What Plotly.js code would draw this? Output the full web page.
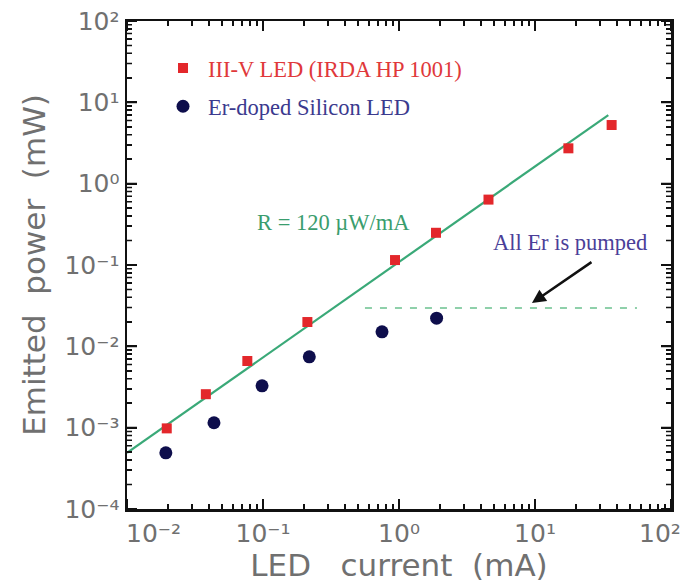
<!DOCTYPE html>
<html>
<head>
<meta charset="utf-8">
<script src="https://cdn.plot.ly/plotly-3.0.1.min.js"></script>
<style>html,body{margin:0;padding:0;background:#fff;}#chart{width:686px;height:588px;}</style>
</head>
<body>
<div id="chart"></div>
<script>
// ---- data ----
const seriesNames = ["III-V LED (IRDA HP 1001)", "Er-doped Silicon LED"];
const redX = [0.0196, 0.038, 0.0767, 0.212, 0.935, 1.87, 4.55, 17.6, 36.6];
const redY = [0.00098, 0.00258, 0.0066, 0.0199, 0.115, 0.249, 0.637, 2.72, 5.26];
const blueX = [0.0193, 0.0436, 0.0984, 0.219, 0.75, 1.89];
const blueY = [0.00049, 0.00115, 0.00327, 0.00743, 0.0151, 0.0222];
const fitX = [0.01, 34.6];
const fitY = [0.00049, 6.98];
const satX = [0.562, 56.2];
const satY = [0.0295, 0.0295];
const arrowTip = [9.5, 0.034];
const fitLabel = "R = 120 \u00b5W/mA";
const satLabel = "All Er is pumped";
const xTickVals = [0.01, 0.1, 1, 10, 100];
const xTickText = [" ", "10\u207b\u00b9", "10\u2070", "10\u00b9", " "];
const xEdgeText = ["10\u207b\u00b2", "10\u00b2"];
const yTickVals = [0.0001, 0.001, 0.01, 0.1, 1, 10, 100];
const yTickText = ["10\u207b\u2074", "10\u207b\u00b3", "10\u207b\u00b2", "10\u207b\u00b9", "10\u2070", "10\u00b9", "10\u00b2"];
const xTitle = "LED\u00a0\u00a0\u00a0current\u00a0\u00a0(mA)";
const yTitle = "Emitted\u00a0\u00a0power\u00a0\u00a0(mW)";
const xRange = [-2, 2];
const yRange = [-4, 2];

// minor tick positions (2..9 within each decade)
function minorTicks(lo, hi) {
  const out = [];
  for (let e = lo; e < hi; e++) for (let m = 2; m <= 9; m++) out.push(m * Math.pow(10, e));
  return out;
}

const serif = "Liberation Serif, Times New Roman, serif";
const sans = "DejaVu Sans, sans-serif";
const gray = "#707070";
const W = 686, H = 588, M = {l: 127, r: 15, t: 21, b: 79};
const plotW = W - M.l - M.r, plotH = H - M.t - M.b;

const traces = [
  {x: fitX, y: fitY, mode: "lines", line: {color: "#3aa978", width: 2.2}, showlegend: false, hoverinfo: "skip"},
  {x: satX, y: satY, mode: "lines", line: {color: "#8fd0aa", width: 2, dash: "7px,8px"}, showlegend: false, hoverinfo: "skip"},
  {x: redX, y: redY, mode: "markers", name: '<span style="color:#e0383a">' + seriesNames[0] + '</span>',
   legendgroup: "a", marker: {symbol: "square", size: 10, color: "#e3272b"}},
  {x: blueX, y: blueY, mode: "markers", name: '<span style="color:#3b3a8e">' + seriesNames[1] + '</span>',
   legendgroup: "b", marker: {symbol: "circle", size: 13, color: "#0e0e4c"}}
];

function axis(range, vals, text, title, standoff) {
  return {
    type: "log", range: range, showgrid: false, zeroline: false,
    showline: true, linecolor: "#111", linewidth: 2.5, mirror: "allticks",
    ticks: "inside", ticklen: 10, tickwidth: 2, tickcolor: "#111",
    tickmode: "array", tickvals: vals, ticktext: text,
    minor: {ticks: "inside", ticklen: 5, tickwidth: 1.5, tickcolor: "#111", tickmode: "array",
            tickvals: minorTicks(range[0], range[1]), showgrid: false},
    tickfont: {family: sans, size: 25, color: gray},
    automargin: false,
    title: {text: title, font: {family: sans, size: 31, color: gray}, standoff: standoff}
  };
}

// tick marks on all four frame sides, placed from the same tick values on the log scale
function frac(v, range) { return (Math.log10(v) - range[0]) / (range[1] - range[0]); }
function xTickPath(vals, lenPx) {
  const len = lenPx / plotH;
  return vals.map(function (v) { const p = frac(v, xRange); return "M" + p + ",0L" + p + "," + len + "M" + p + ",1L" + p + "," + (1 - len); }).join("");
}
function yTickPath(vals, lenPx) {
  const len = lenPx / plotW;
  return vals.map(function (v) { const p = frac(v, yRange); return "M0," + p + "L" + len + "," + p + "M1," + p + "L" + (1 - len) + "," + p; }).join("");
}
const tickShapes = [
  {path: xTickPath(xTickVals, 10), w: 2},
  {path: xTickPath(minorTicks(xRange[0], xRange[1]), 5), w: 1.5},
  {path: yTickPath(yTickVals, 10), w: 2},
  {path: yTickPath(minorTicks(yRange[0], yRange[1]), 5), w: 1.5}
].map(function (s) { return {type: "path", xref: "paper", yref: "paper", path: s.path, line: {color: "#111", width: s.w}, layer: "above"}; });

const layout = {
  width: W, height: H,
  margin: M,
  showlegend: true,
  legend: {x: 0.057, y: 0.947, xanchor: "left", yanchor: "top", bgcolor: "rgba(0,0,0,0)",
           font: {family: serif, size: 22.5}, tracegroupgap: 6, itemwidth: 40},
  xaxis: axis(xRange, xTickVals, xTickText, xTitle, 6),
  yaxis: axis(yRange, yTickVals, yTickText, yTitle, 10),
  shapes: tickShapes,
  annotations: [
    {xref: "paper", yref: "paper", x: 0.3805, y: 0.588, xanchor: "center", yanchor: "middle", text: fitLabel, showarrow: false,
     font: {family: serif, size: 22.5, color: "#3a9d6e"}},
    {xref: "paper", yref: "paper", x: 0.814, y: 0.547, xanchor: "center", yanchor: "middle", text: satLabel, showarrow: false,
     font: {family: serif, size: 22.5, color: "#4b3f98"}},
    {xref: "x", yref: "y", x: Math.log10(arrowTip[0]), y: Math.log10(arrowTip[1]), text: "",
     showarrow: true, ax: 61, ay: -42, arrowhead: 2, arrowsize: 1.1, arrowwidth: 2.5, arrowcolor: "#111", standoff: 0},
    {xref: "paper", yref: "paper", x: 0.0496, y: -0.017, xanchor: "center", yanchor: "top", text: xEdgeText[0], showarrow: false,
     font: {family: sans, size: 25, color: gray}},
    {xref: "paper", yref: "paper", x: 0.98, y: -0.017, xanchor: "center", yanchor: "top", text: xEdgeText[1], showarrow: false,
     font: {family: sans, size: 25, color: gray}}
  ]
};

Plotly.newPlot("chart", traces, layout, {displayModeBar: false, staticPlot: true});
</script>
</body>
</html>
